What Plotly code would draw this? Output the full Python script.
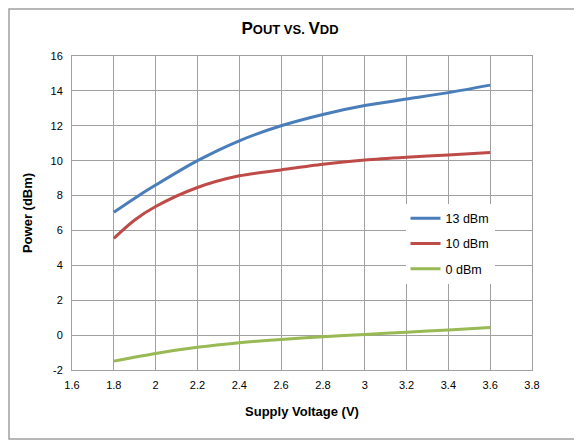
import plotly.graph_objects as go

x_13 = [1.8, 1.9, 2.0, 2.2, 2.4, 2.6, 2.8, 3.0, 3.2, 3.4, 3.6]
y_13 = [7.04, 7.85, 8.6, 10.0, 11.14, 12.0, 12.65, 13.16, 13.53, 13.9, 14.33]

x_10 = [1.8, 1.9, 2.0, 2.2, 2.4, 2.6, 2.8, 3.0, 3.2, 3.4, 3.6]
y_10 = [5.55, 6.6, 7.37, 8.46, 9.13, 9.47, 9.8, 10.04, 10.2, 10.33, 10.47]

x_0 = [1.8, 2.0, 2.2, 2.4, 2.6, 2.8, 3.0, 3.2, 3.4, 3.6]
y_0 = [-1.49, -1.05, -0.7, -0.44, -0.25, -0.1, 0.04, 0.17, 0.29, 0.44]

series_names = ["13 dBm", "10 dBm", "0 dBm"]
colors = ["#4a7ebb", "#be4b48", "#98b954"]

x_ticks = [1.6, 1.8, 2.0, 2.2, 2.4, 2.6, 2.8, 3.0, 3.2, 3.4, 3.6, 3.8]
x_ticklabels = ["1.6", "1.8", "2", "2.2", "2.4", "2.6", "2.8", "3", "3.2", "3.4", "3.6", "3.8"]
y_ticks = [-2, 0, 2, 4, 6, 8, 10, 12, 14, 16]
y_ticklabels = ["-2", "0", "2", "4", "6", "8", "10", "12", "14", "16"]

fig = go.Figure()
for i, (xs, ys, name, c) in enumerate(zip([x_13, x_10, x_0], [y_13, y_10, y_0], series_names, colors)):
    fig.add_trace(go.Scatter(x=xs, y=ys, name=name, mode="lines", legendgroup=f"g{i}",
                             line=dict(color=c, width=3, shape="spline", smoothing=0.8)))

font = "Liberation Sans, Arial, sans-serif"
# page body adds an 8px offset; margins compensate so plot area sits at 72..532 x 56..370
L, T = 64, 48
fig.update_layout(
    width=582, height=440,
    margin=dict(l=L, r=582 - L - 460, t=T, b=440 - T - 314),
    paper_bgcolor="white", plot_bgcolor="white",
    font=dict(family=font, size=11, color="black"),
    title=dict(
        text="<b><span style='font-size:17px'>P</span><span style='font-size:13px'>OUT VS. </span>"
             "<span style='font-size:17px'>V</span><span style='font-size:13px'>DD</span></b>",
        x=(290 - 8) / 582, xanchor="center", y=1 - 20 / 440, yanchor="middle",
        font=dict(family=font, size=17, color="black")),
    showlegend=True,
    legend=dict(x=0.725, y=0.53, xanchor="left", yanchor="top",
                bgcolor="white", borderwidth=0,
                font=dict(family=font, size=12.5, color="black"),
                tracegroupgap=6, itemwidth=30),
    xaxis=dict(range=[1.6, 3.8], tickvals=x_ticks, ticktext=x_ticklabels,
               showgrid=True, gridcolor="#a0a0a0", gridwidth=1,
               showline=True, linecolor="#a0a0a0", linewidth=1, mirror=True,
               ticks="", zeroline=False, ticklabelstandoff=5,
               title=dict(text="<b>Supply Voltage (V)</b>", font=dict(size=13), standoff=16)),
    yaxis=dict(range=[-2, 16], tickvals=y_ticks, ticktext=y_ticklabels,
               showgrid=True, gridcolor="#a0a0a0", gridwidth=1,
               showline=True, linecolor="#a0a0a0", linewidth=1, mirror=True,
               ticks="", zeroline=False, ticklabelstandoff=6,
               title=dict(text="<b>Power (dBm)</b>", font=dict(size=13), standoff=14)),
    shapes=[dict(type="rect", xref="paper", yref="paper",
                 x0=(9 - 72) / 460, x1=(600 - 72) / 460,
                 y0=(370 - 439) / 314, y1=(370 - 9) / 314,
                 line=dict(color="#a0a0a0", width=1.5), fillcolor="rgba(0,0,0,0)", layer="below")],
)
fig.write_html("out.html")
